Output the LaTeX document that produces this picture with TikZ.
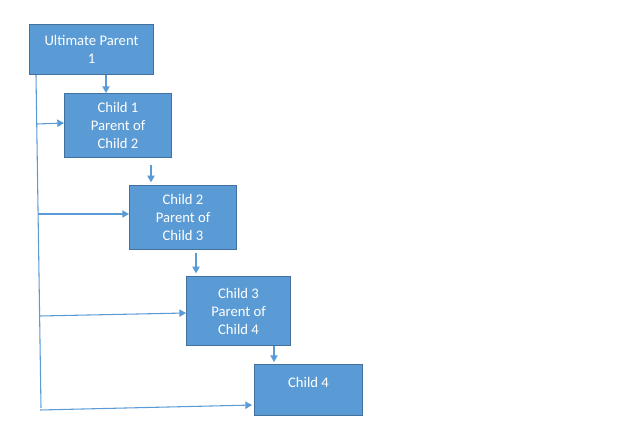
\documentclass[tikz,border=0pt]{standalone}
\usepackage{fontspec}
\setmainfont{Carlito}
\usetikzlibrary{arrows.meta,positioning}
\definecolor{caja}{HTML}{5B9BD5}
\definecolor{borde}{HTML}{41719C}
\definecolor{linea}{HTML}{5B9BD5}

\begin{document}
\begin{tikzpicture}[x=0.75pt,y=-0.75pt,>={Triangle[width=5.5pt,length=5pt]},
      blk/.style={fill=caja,draw=borde,line width=0.8pt,text=white,
        font=\fontsize{11}{13.5}\selectfont,align=center,anchor=north west,
        inner sep=0pt},
      arr/.style={linea,line width=0.8pt,->}]
    \useasboundingbox (0,0) rectangle (626,438);
    % boxes
    \node[blk,minimum width=93pt,minimum height=37.5pt] (b0) at (29,24)
      {Ultimate Parent\\1};
    \node[blk,minimum width=80.25pt,minimum height=48pt] (c1) at (64,93)
      {Child 1\\Parent of\\Child 2};
    \node[blk,minimum width=80.25pt,minimum height=48pt] (c2) at (129,185)
      {Child 2\\Parent of\\Child 3};
    \node[blk,minimum width=78pt,minimum height=51.75pt] (c3) at (186,276)
      {Child 3\\Parent of\\Child 4};
    \node[blk,minimum width=81pt,minimum height=38.25pt,
      text height=8pt,text depth=12pt] (c4) at (254,364) {Child 4};
    % chain downwards
    \draw[arr] (b0.south -| 106,0) -- (c1.north -| 106,0);
    \draw[arr,shorten <=5pt,shorten >=2pt] (c1.south -| 151,0) -- (c2.north -| 151,0);
    \draw[arr,shorten <=2pt,shorten >=2pt] (c2.south -| 196,0) -- (c3.north -| 196,0);
    \draw[arr,shorten >=1.5pt] (c3.south -| 274,0) -- (c4.north -| 274,0);
    % line from the ultimate parent
    \coordinate (bot) at (41,408);
    \draw[linea,line width=0.8pt] (b0.south -| 36,0) -- (bot);
    \coordinate (t1) at (37,124);
    \coordinate (t2) at (38,214);
    \coordinate (t3) at (40,316);
    \coordinate (t4) at (40,410);
    \draw[arr] (t1) -- (c1.west |- 0,123);
    \draw[arr] (t2) -- (c2.west |- 0,214);
    \draw[arr] (t3) -- (c3.west |- 0,313);
    \draw[arr,shorten >=1.5pt] (t4) -- (c4.west |- 0,405);
  \end{tikzpicture}
\end{document}
